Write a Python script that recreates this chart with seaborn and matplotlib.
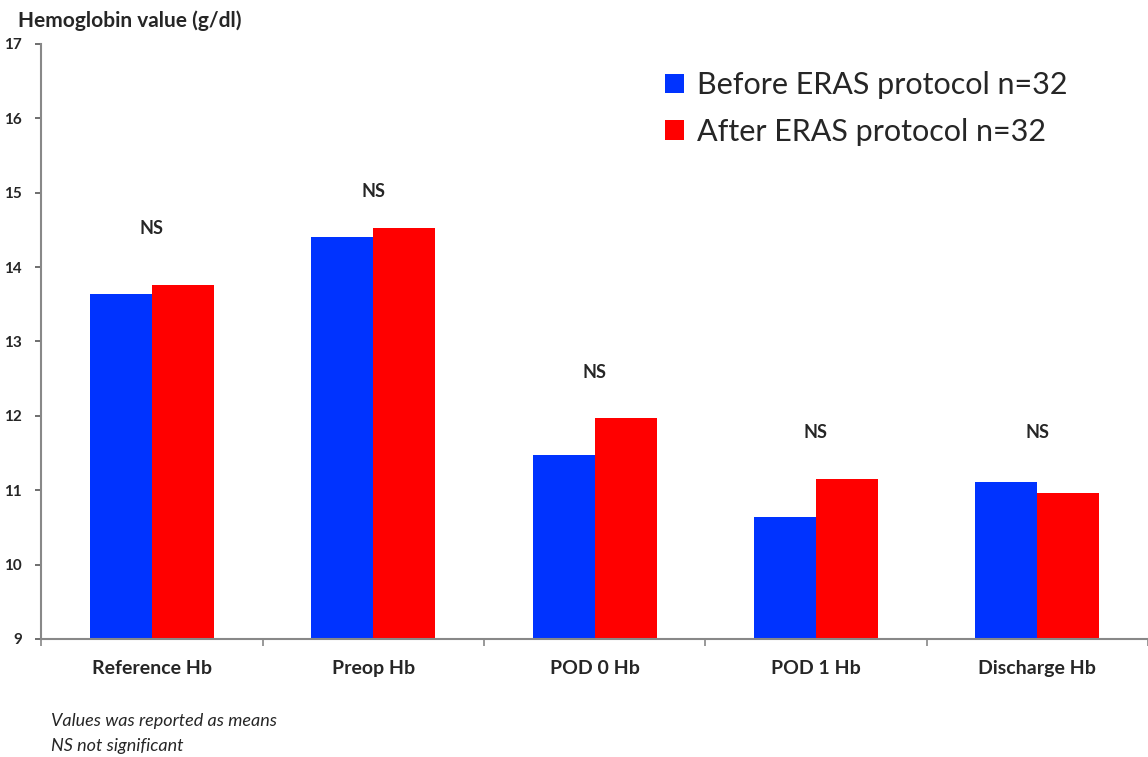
import matplotlib
matplotlib.use("Agg")
import matplotlib.pyplot as plt
import seaborn as sns
import pandas as pd
import numpy as np

categories = ["Reference Hb", "Preop Hb", "POD 0 Hb", "POD 1 Hb", "Discharge Hb"]
before = [13.64, 14.41, 11.47, 10.64, 11.11]
after = [13.76, 14.52, 11.97, 11.15, 10.96]
ns_y = [14.52, 15.02, 12.58, 11.78, 11.78]
groups = ["Before ERAS protocol n=32", "After ERAS protocol n=32"]

df = pd.DataFrame({
    "cat": categories * 2,
    "value": before + after,
    "group": [groups[0]] * 5 + [groups[1]] * 5,
})

sns.set_style("white")
plt.rcParams["font.family"] = ["Lato", "DejaVu Sans"]

fig = plt.figure(figsize=(11.48, 7.57), dpi=100)
ax = fig.add_axes([0.036, 0.156, 0.964, 0.786])

sns.barplot(data=df, x="cat", y="value", hue="group", order=categories,
            palette=["#0033ff", "#ff0000"], width=0.56, saturation=1,
            edgecolor="none", ax=ax)

ax.set_ylim(9, 17)
ax.set_xlim(-0.5, 4.5)
ax.set_yticks(range(9, 18))
ax.set_yticklabels([str(v) for v in range(9, 18)], fontsize=11, fontweight="bold")
ax.set_xticks(range(len(categories)))
ax.set_xticklabels(categories, fontsize=14, fontweight="bold")
ax.set_xticks(np.arange(-0.5, 4.6, 1), minor=True)
ax.tick_params(axis="x", which="major", length=0, pad=15)
ax.tick_params(axis="x", which="minor", length=5, width=1.2, color="#888888",
               direction="out", bottom=True)
ax.tick_params(axis="y", length=4, width=1.2, color="#555555", direction="out",
               left=True, pad=10)
ax.set_xlabel("")
ax.set_ylabel("")

for side in ["top", "right"]:
    ax.spines[side].set_visible(False)
ax.spines["left"].set_color("#888888")
ax.spines["bottom"].set_color("#888888")
ax.spines["left"].set_linewidth(1.5)
ax.spines["bottom"].set_linewidth(1.5)

for i, y in enumerate(ns_y):
    ax.text(i, y, "NS", ha="center", va="center", fontsize=13, fontweight="bold")

leg = ax.legend(loc="upper left", bbox_to_anchor=(0.539, 1.0), frameon=False,
                fontsize=22, handlelength=0.6, handleheight=0.6,
                handletextpad=0.45, labelspacing=0.6)

fig.text(0.016, 0.972, "Hemoglobin value (g/dl)", fontsize=15, fontweight="bold",
         ha="left", va="center")
fig.text(0.044, 0.048, "Values was reported as means", fontsize=13,
         style="italic", ha="left", va="center")
fig.text(0.044, 0.015, "NS not significant", fontsize=13,
         style="italic", ha="left", va="center")

fig.savefig("out.png", dpi=100, facecolor="white")
